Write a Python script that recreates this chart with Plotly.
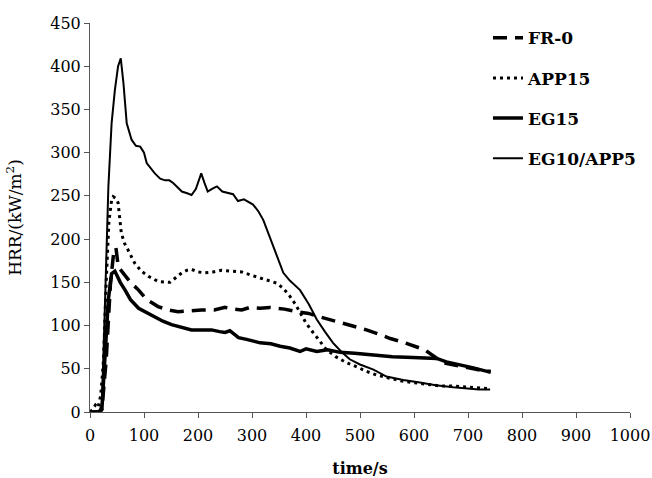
import plotly.graph_objects as go

# ---- data ----
fr0_t = [0, 10, 18, 22, 30, 38, 44, 48, 52, 56, 65, 75, 90, 105, 126, 145, 163, 185, 206, 230,
         250, 265, 281, 296, 315, 333, 360, 383, 405, 426, 450, 469, 490, 512, 535, 556, 578,
         598, 620, 640, 654, 670, 685, 710, 735, 742]
fr0_v = [0, 0, 0, 3, 60, 150, 185, 190, 170, 165, 158, 150, 141, 130, 122, 118, 116, 117, 118, 118,
         121, 119, 118, 121, 120, 121, 119, 116, 114, 110, 106, 103, 99, 95, 90, 85, 81,
         77, 72, 63, 57, 55, 53, 50, 47, 46]

app15_t = [0, 5, 10, 15, 20, 25, 30, 35, 40, 43, 48, 52, 58, 64, 70, 83, 95, 108, 126, 138, 148,
           158, 170, 180, 188, 200, 213, 228, 244, 260, 281, 300, 315, 330, 346, 358, 370, 380,
           389, 400, 413, 425, 438, 455, 475, 495, 512, 530, 550, 575, 600, 625, 650, 675, 700,
           720, 740]
app15_v = [0, 3, 8, 5, 20, 60, 150, 220, 245, 249, 247, 242, 207, 195, 188, 172, 163, 157, 151, 150, 150,
           155, 161, 164, 165, 162, 161, 162, 164, 163, 162, 158, 155, 152, 149, 143, 134, 125,
           115, 103, 92, 82, 72, 64, 57, 52, 47, 43, 40, 36, 34, 32, 30, 30, 29,
           28, 27]

eg15_t = [0, 10, 18, 22, 28, 34, 40, 46, 50, 56, 65, 75, 90, 105, 120, 135, 151, 170, 188, 205,
          225, 240, 250, 259, 268, 275, 290, 315, 335, 352, 370, 389, 400, 410, 420, 440, 463,
          490, 525, 560, 598, 620, 642, 660, 685, 710, 735, 742]
eg15_v = [0, 0, 0, 3, 60, 130, 160, 163, 158, 150, 141, 130, 120, 115, 109, 105, 101, 98, 95, 95,
          95, 93, 92, 94, 89, 86, 84, 80, 79, 76, 74, 70, 73, 72, 70, 72, 69,
          68, 66, 64, 63, 63, 62, 58, 55, 51, 47, 47]

eg10app5_t = [0, 10, 18, 22, 28, 34, 40, 46, 52, 57, 62, 68, 77, 85, 93, 100, 105, 112, 120, 130,
              139, 147, 154, 162, 170, 180, 188, 196, 201, 206, 212, 218, 226, 235, 245, 256, 265,
              274, 285, 302, 312, 321, 330, 339, 348, 358, 370, 389, 405, 420, 435, 450, 465, 481,
              500, 525, 549, 580, 611, 640, 673, 700, 720, 741]
eg10app5_v = [0, 0, 2, 10, 130, 260, 334, 372, 400, 409, 380, 334, 315, 308, 307, 300, 288, 282, 276, 270,
              268, 268, 265, 260, 255, 253, 251, 258, 268, 276, 265, 255, 258, 261, 255, 253, 252,
              244, 246, 240, 232, 222, 207, 192, 178, 161, 152, 141, 125, 107, 93, 80, 70, 61,
              55, 49, 41, 37, 34, 31, 28.5, 27, 26, 26]

x_ticks = [0, 100, 200, 300, 400, 500, 600, 700, 800, 900, 1000]
y_ticks = [0, 50, 100, 150, 200, 250, 300, 350, 400, 450]

FONT = "DejaVu Serif"

fig = go.Figure()
series = [
    ("FR-0", fr0_t, fr0_v, dict(color="black", width=3.5, dash="14px,8px")),
    ("APP15", app15_t, app15_v, dict(color="black", width=3, dash="3px,4px")),
    ("EG15", eg15_t, eg15_v, dict(color="black", width=3.5)),
    ("EG10/APP5", eg10app5_t, eg10app5_v, dict(color="black", width=2)),
]
for name, t, v, line in series:
    fig.add_trace(go.Scatter(x=t, y=v, mode="lines", name=name, line=line,
                             legendgroup=name))

fig.update_layout(
    width=652, height=478,
    margin=dict(l=90, r=22, t=23, b=66, autoexpand=False),
    paper_bgcolor="white", plot_bgcolor="white",
    font=dict(family=FONT, size=16, color="black"),
    showlegend=True,
    legend=dict(x=0.737, y=1.007, xanchor="left", yanchor="top",
                font=dict(family=FONT, size=17, color="black", weight="bold"),
                tracegroupgap=15, bgcolor="rgba(0,0,0,0)"),
    xaxis=dict(range=[0, 1000], tickvals=x_ticks, ticks="outside", ticklen=5,
               showline=True, linecolor="#555", linewidth=1, tickcolor="#555",
               showgrid=False, zeroline=False, ticklabelstandoff=4, automargin=False,
               title=dict(text="time/s", font=dict(family=FONT, size=16, weight="bold"), standoff=21),
               tickfont=dict(family=FONT, size=16)),
    yaxis=dict(range=[0, 450], tickvals=y_ticks, ticks="outside", ticklen=5,
               showline=True, linecolor="#555", linewidth=1, tickcolor="#555",
               showgrid=False, zeroline=False, automargin=False,
               title=dict(text="HRR/(kW/m<sup>2</sup>)", font=dict(family=FONT, size=17), standoff=24),
               tickfont=dict(family=FONT, size=16)),
)

fig.write_html(
    "out.html",
    config={"displayModeBar": False},
    post_script="document.body.style.margin='0';document.body.style.overflow='hidden';",
)
